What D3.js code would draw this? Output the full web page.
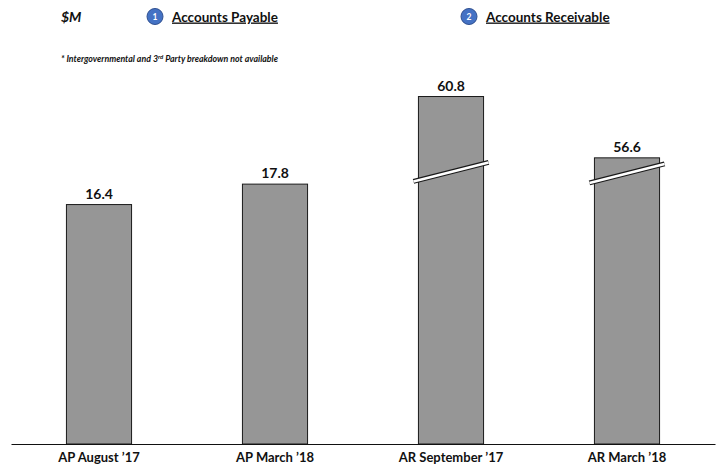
<!DOCTYPE html>
<html>
<head>
<meta charset="utf-8">
<script src="https://cdn.jsdelivr.net/npm/d3@7/dist/d3.min.js"></script>
<style>
  html, body { margin: 0; padding: 0; background: #fff; }
  svg { display: block; font-family: Lato, "Open Sans", sans-serif; }
</style>
</head>
<body>
<svg id="chart" width="717" height="465"></svg>
<script>
// Balances in $M
const categories = ["AP August \u201917", "AP March \u201918", "AR September \u201917", "AR March \u201918"];
const values = [16.4, 17.8, 60.8, 56.6];
const valueLabels = ["16.4", "17.8", "60.8", "56.6"];
// bars whose value axis is broken (drawn with a break mark)
const broken = [false, false, true, true];
// axis break: the value span between these two is skipped
const breakFrom = 19;
const breakTo = 56;
const breakMarkValue = 18.6;

const svg = d3.select("#chart");
const baseY = 444, pxPerUnit = 14.6;

const x = d3.scaleBand().domain(categories).range([11, 715]).padding(0);
const barW = x.bandwidth() * 0.37;

// piecewise scale with a flat segment for the skipped range
const yBreak = baseY - breakFrom * pxPerUnit;
const y = d3.scaleLinear()
  .domain([0, breakFrom, breakTo, breakTo + 10])
  .range([baseY, yBreak, yBreak, yBreak - 10 * pxPerUnit]);

// bars
svg.append("g").selectAll("rect")
  .data(values)
  .join("rect")
  .attr("x", (d, i) => x(categories[i]) + (x.bandwidth() - barW) / 2)
  .attr("y", d => y(d))
  .attr("width", barW)
  .attr("height", d => baseY - y(d))
  .attr("fill", "#969696")
  .attr("stroke", "#1a1a1a")
  .attr("stroke-width", 1);

// value labels
svg.append("g").selectAll("text")
  .data(values)
  .join("text")
  .attr("x", (d, i) => x(categories[i]) + x.bandwidth() / 2)
  .attr("y", d => y(d) - 6)
  .attr("text-anchor", "middle")
  .attr("font-size", 14)
  .attr("font-weight", 700)
  .attr("fill", "#111")
  .text((d, i) => valueLabels[i]);

// break marks on the broken bars
const breakG = svg.append("g");
values.forEach((v, i) => {
  if (!broken[i]) return;
  const cx = x(categories[i]) + x.bandwidth() / 2;
  const cy = y(breakMarkValue) - 0.5 + (i === 3 ? 1.5 : 0);
  const half = barW / 2 + 5, rise = 9.5;
  const line = `M${cx - half},${cy + rise}L${cx + half},${cy - rise}`;
  breakG.append("path").attr("d", line).attr("stroke", "#1a1a1a").attr("stroke-width", 5).attr("fill", "none");
  breakG.append("path").attr("d", line).attr("stroke", "#fff").attr("stroke-width", 2.6).attr("fill", "none");
});

// baseline + category axis
const axis = d3.axisBottom(x).tickSize(0).tickPadding(9);
const axG = svg.append("g").attr("transform", `translate(0,${baseY})`).call(axis);
axG.select(".domain").attr("stroke", "#111").attr("stroke-width", 1.2);
axG.selectAll("text")
  .attr("font-family", "Lato, 'Open Sans', sans-serif")
  .attr("font-size", 13)
  .attr("font-weight", 700)
  .attr("fill", "#111");

// unit label
svg.append("text")
  .attr("x", 61).attr("y", 22)
  .attr("font-size", 14).attr("font-weight", 700).attr("font-style", "italic")
  .attr("fill", "#111")
  .text("$M");

// section headers
const headers = [
  { n: "1", label: "Accounts Payable", cx: 155 },
  { n: "2", label: "Accounts Receivable", cx: 469 }
];
headers.forEach(h => {
  svg.append("circle").attr("cx", h.cx).attr("cy", 16.5).attr("r", 8)
    .attr("fill", "#4472c4").attr("stroke", "#2f4f8f").attr("stroke-width", 1);
  svg.append("text").attr("x", h.cx).attr("y", 19.5)
    .attr("text-anchor", "middle").attr("font-size", 8.5).attr("font-weight", 700)
    .attr("fill", "#fff").text(h.n);
  svg.append("text").attr("x", h.cx + 17).attr("y", 21.5)
    .attr("font-size", 13.5).attr("font-weight", 700).attr("fill", "#111")
    .attr("text-decoration", "underline")
    .text(h.label);
});

// footnote
const fn = svg.append("text")
  .attr("x", 61).attr("y", 62)
  .attr("font-size", 8.8).attr("font-weight", 700).attr("font-style", "italic")
  .attr("fill", "#111");
fn.append("tspan").text("* Intergovernmental  and 3");
fn.append("tspan").attr("dy", -3.5).attr("font-size", 6).text("rd");
fn.append("tspan").attr("dy", 3.5).text(" Party breakdown not available");
</script>
</body>
</html>
